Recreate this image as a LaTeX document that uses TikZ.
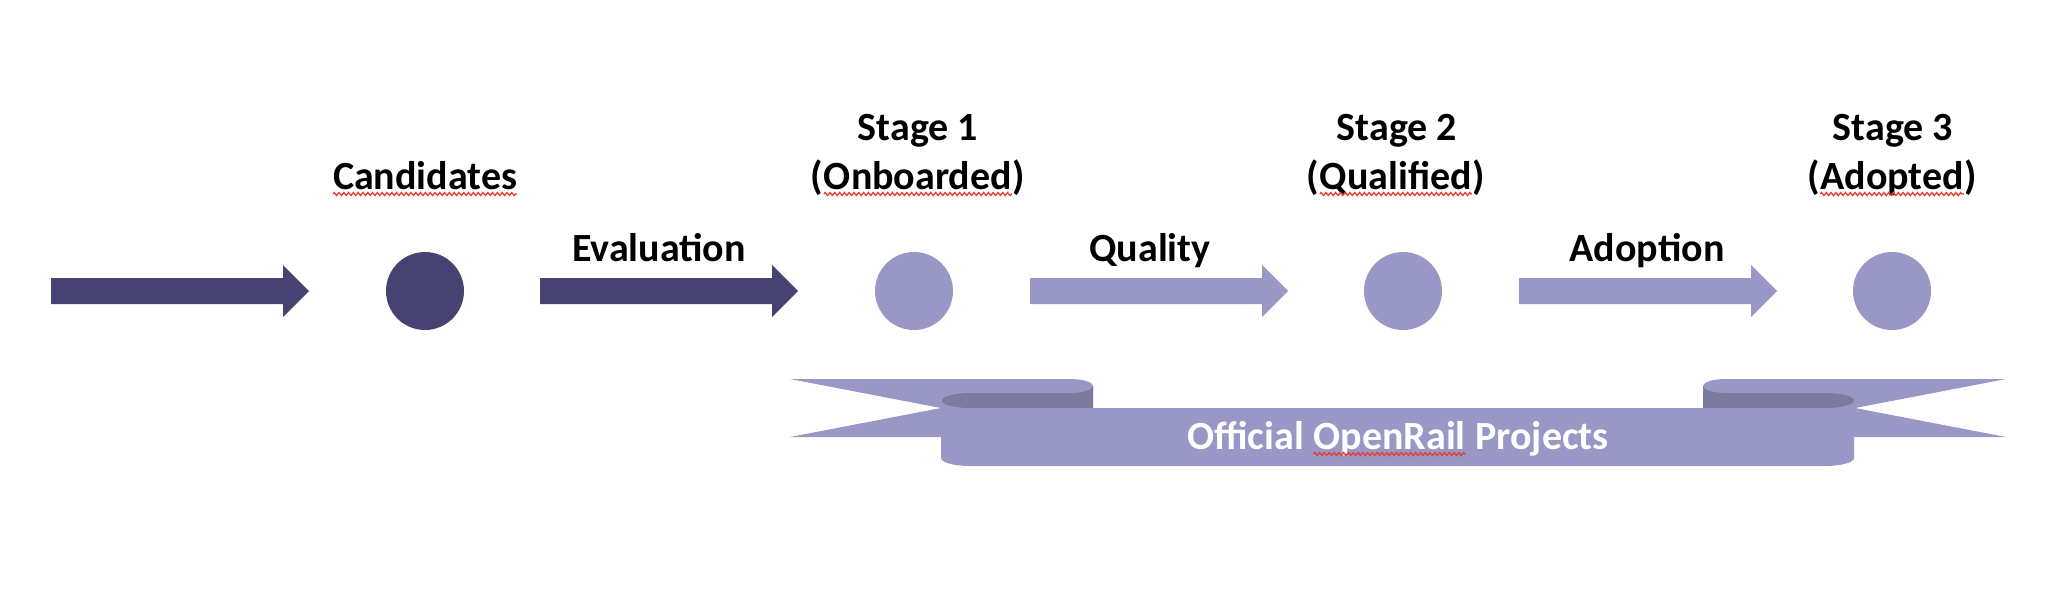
\documentclass[tikz,border=0pt]{standalone}
\usepackage{fontspec}
\setmainfont{Carlito}
\usetikzlibrary{decorations.pathmorphing}
\definecolor{darkpurple}{RGB}{70,66,114}
\definecolor{lightpurple}{RGB}{153,151,197}
\definecolor{foldpurple}{RGB}{125,122,160}
\definecolor{squigred}{RGB}{235,60,45}
\tikzset{
  lbl/.style={font=\fontsize{20}{24.5}\selectfont\bfseries, text=black, inner sep=0pt, anchor=base},
  bannertext/.style={lbl, text=white},
  dot/.style={circle, inner sep=0pt, minimum size=39pt},
  squigline/.style={draw=squigred, line width=0.65pt, decorate,
    decoration={zigzag, amplitude=0.75pt, segment length=2.4pt}},
}
\newcommand\squig[1]{\tikz[baseline=(sq.base)]{\node[inner sep=0pt,outer sep=0pt,anchor=base](sq){#1};\draw[squigline]([yshift=-2.5pt]sq.base west)--([yshift=-2.5pt]sq.base east);}}
\newcommand\blockarrow[2]{\fill[#2] (#1,-278) -- (#1+232,-278) -- (#1+232,-265) -- (#1+258,-291) -- (#1+232,-317) -- (#1+232,-304) -- (#1,-304) -- cycle;}
\begin{document}
\begin{tikzpicture}[x=0.5pt,y=0.5pt]
\useasboundingbox (0,0) rectangle (2070,-590);
% arrows
\blockarrow{51}{darkpurple}
\blockarrow{540}{darkpurple}
\blockarrow{1030}{lightpurple}
\blockarrow{1519}{lightpurple}
% circles
\node[dot, fill=darkpurple] (c0) at (425,-291) {};
\node[dot, fill=lightpurple] (c1) at (914,-291) {};
\node[dot, fill=lightpurple] (c2) at (1403,-291) {};
\node[dot, fill=lightpurple] (c3) at (1892,-291) {};
% labels
\node[lbl] (cand) at (425,-189) {\squig{Candidates}};
\node[lbl] (eval) at (659,-261) {Evaluation};
\node[lbl] (s1a) at (918,-140) {Stage 1};
\node[lbl] (s1b) at (918,-189) {(\squig{Onboarded})};
\node[lbl] (qual) at (1150,-261) {Quality};
\node[lbl] (s2a) at (1397,-140) {Stage 2};
\node[lbl] (s2b) at (1396,-189) {(\squig{Qualified})};
\node[lbl] (adop) at (1647,-261) {Adoption};
\node[lbl] (s3a) at (1893,-140) {Stage 3};
\node[lbl] (s3b) at (1892,-189) {(\squig{Adopted})};
% banner: tails
\fill[lightpurple] (790,-379) -- (1070,-379) arc[start angle=90, end angle=0, x radius=23, y radius=7]
  -- (1093,-437) -- (790,-437) -- (941,-408) -- cycle;
\fill[lightpurple] (2006,-379) -- (1726,-379) arc[start angle=90, end angle=180, x radius=23, y radius=7]
  -- (1703,-437) -- (2006,-437) -- (1855,-408) -- cycle;
% banner: folds
\fill[foldpurple] (1093,-386) -- (1093,-408) -- (970,-408)
  arc[start angle=270, end angle=90, x radius=28, y radius=7.5]
  -- (1070,-393) arc[start angle=270, end angle=360, x radius=23, y radius=7] -- cycle;
\fill[foldpurple] (1703,-386) -- (1703,-408) -- (1826,-408)
  arc[start angle=-90, end angle=90, x radius=28, y radius=7.5]
  -- (1726,-393) arc[start angle=270, end angle=180, x radius=23, y radius=7] -- cycle;
% banner: main band
\fill[lightpurple] (941,-408) -- (941,-458) arc[start angle=180, end angle=270, x radius=29, y radius=8]
  -- (1825,-466) arc[start angle=270, end angle=360, x radius=29, y radius=8] -- (1854,-408) -- cycle;
\node[bannertext] (banner) at (1398,-449) {Official \squig{OpenRail} Projects};
\end{tikzpicture}
\end{document}
